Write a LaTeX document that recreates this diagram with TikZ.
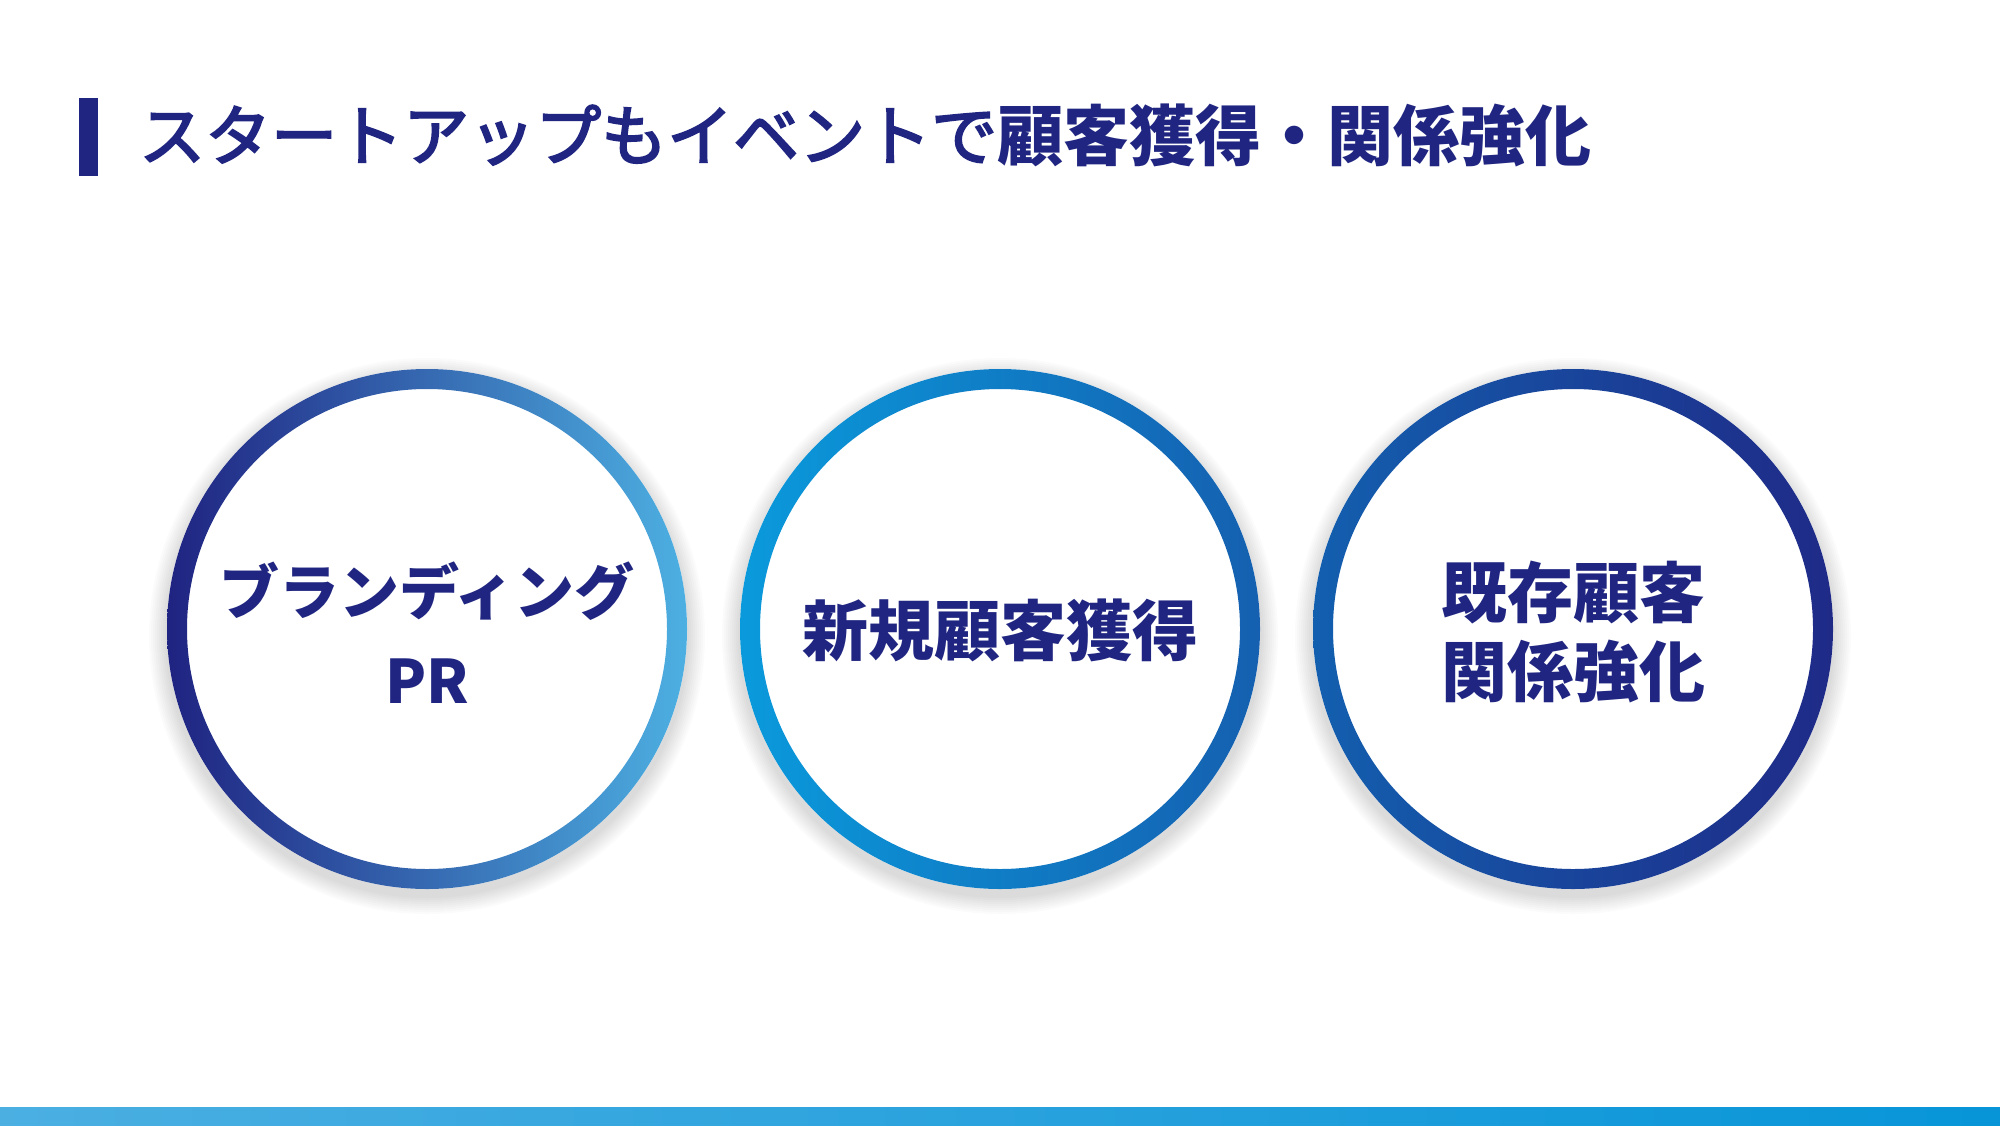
\documentclass[tikz,border=0pt]{standalone}
\usepackage{fontspec}
\newfontfamily\jp{Noto Sans CJK JP}
\newfontfamily\jpm{Noto Sans CJK JP}[FakeBold=3]
\definecolor{navy}{HTML}{1F2580}
\definecolor{ringAl}{HTML}{1F2381}
\definecolor{ringAr}{HTML}{4DB0E2}
\definecolor{ringBl}{HTML}{0A9ADC}
\definecolor{ringBr}{HTML}{1560B0}
\definecolor{ringCl}{HTML}{135FAF}
\definecolor{ringCr}{HTML}{1F2A87}
\definecolor{barL}{HTML}{4BAFE2}
\definecolor{barR}{HTML}{0795D8}
\begin{document}
\begin{tikzpicture}[x=1pt,y=-1pt,
  disc/.style={circle, minimum size=520pt, inner sep=0pt, fill=white},
  glow/.style={fill=black, fill opacity=0.014},
  disctext/.style={inner sep=0pt, text=navy, align=center},
  titletext/.style={inner sep=0pt, anchor=west, text=navy, font=\fontsize{66}{70}\selectfont}]
\useasboundingbox (0,0) rectangle (2000,1125);
\fill[white] (0,0) rectangle (2000,1125);

% title
\fill[navy] (79,98) rectangle (98,176);
\node[titletext] (title) at (139,135) {{\jpm スタートアップもイベントで}{\jp\bfseries 顧客獲得・関係強化}};

% soft glow behind circles
\foreach \cx in {427,1000,1573}{
  \foreach \r in {262,264,...,278}{
    \fill[glow] (\cx,636) circle[radius=\r pt];
  }
}

% circles
\node[disc] (c1) at (427,629) {};
\node[disc] (c2) at (1000,629) {};
\node[disc] (c3) at (1573,629) {};

\shade[left color=ringAl, right color=ringAr, even odd rule]
  (c1.center) circle[radius=260pt] (c1.center) circle[radius=240pt];
\shade[left color=ringBl, right color=ringBr, even odd rule]
  (c2.center) circle[radius=260pt] (c2.center) circle[radius=240pt];
\shade[left color=ringCl, right color=ringCr, even odd rule]
  (c3.center) circle[radius=260pt] (c3.center) circle[radius=240pt];

\node[disctext, font=\jp\bfseries\fontsize{60}{89}\selectfont] (t1) at (427,633) {ブランディング\\PR};
\node[disctext, font=\jp\bfseries\fontsize{66}{70}\selectfont] (t2) at (1000,630) {新規顧客獲得};
\node[disctext, font=\jp\bfseries\fontsize{66}{79}\selectfont] (t3) at (1573,632) {既存顧客\\関係強化};

% bottom bar
\shade[left color=barL, right color=barR] (0,1107) rectangle (2000,1125);
\end{tikzpicture}
\end{document}
